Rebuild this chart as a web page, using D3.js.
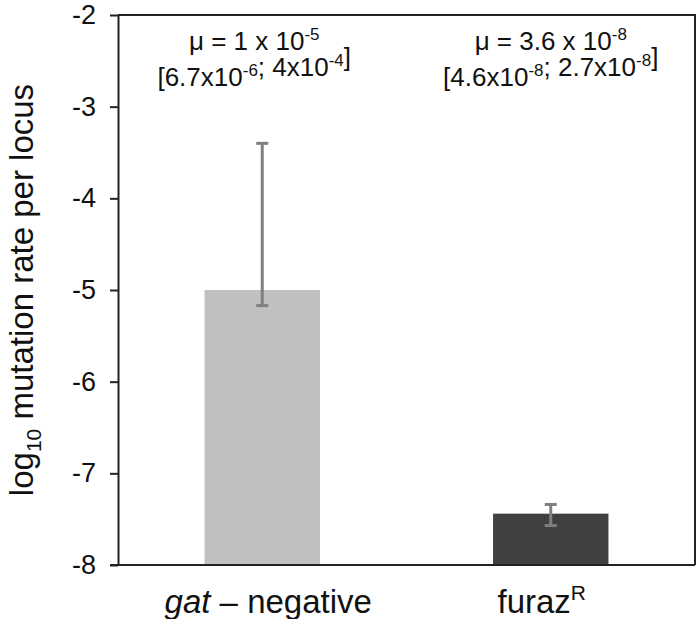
<!DOCTYPE html>
<html>
<head>
<meta charset="utf-8">
<script src="https://d3js.org/d3.v7.min.js"></script>
<style>
  body { margin: 0; background: #fff; }
  text { font-family: "Liberation Sans", Arial, sans-serif; fill: #111; }
</style>
</head>
<body>
<div id="chart"></div>
<script>
// values (log10 mutation rate)
var categories = ["gat", "furaz"];
var means = [-5.0, -7.44];
var errHigh = [-3.40, -7.34];
var errLow = [-5.17, -7.57];
var barColors = ["#c0c0c0", "#404040"];
var yTicks = [-8, -7, -6, -5, -4, -3, -2];
// annotation: mu value and interval, as [base, exponent] pairs
var muText = [[["μ = 1 x 10", "-5"]], [["μ = 3.6 x 10", "-8"]]];
var ciText = [
  [["[6.7x10", "-6"], ["; 4x10", "-4"], ["]", ""]],
  [["[4.6x10", "-8"], ["; 2.7x10", "-8"], ["]", ""]]
];

var W = 700, H = 619;
var margin = { top: 15, right: 5, bottom: 54, left: 118 };
var w = W - margin.left - margin.right;
var h = H - margin.top - margin.bottom;

var svg = d3.select("#chart").append("svg")
  .attr("width", W).attr("height", H);
var g = svg.append("g")
  .attr("transform", "translate(" + margin.left + "," + margin.top + ")");

var x = d3.scaleBand().domain(categories).range([0, w])
  .paddingInner(0.6).paddingOuter(0.3);
var y = d3.scaleLinear().domain([-8, -2]).range([h, 0]);

// bars
g.selectAll("rect.bar").data(categories).enter().append("rect")
  .attr("class", "bar")
  .attr("x", function (d) { return x(d); })
  .attr("width", x.bandwidth())
  .attr("y", function (d, i) { return y(means[i]); })
  .attr("height", function (d, i) { return y(-8) - y(means[i]); })
  .attr("fill", function (d, i) { return barColors[i]; });

// error bars
var cap = 6;
var eb = g.selectAll("g.err").data(categories).enter().append("g")
  .attr("class", "err")
  .attr("stroke", "#7f7f7f").attr("stroke-width", 3);
eb.append("line")
  .attr("x1", function (d) { return x(d) + x.bandwidth() / 2; })
  .attr("x2", function (d) { return x(d) + x.bandwidth() / 2; })
  .attr("y1", function (d, i) { return y(errHigh[i]); })
  .attr("y2", function (d, i) { return y(errLow[i]); });
eb.append("line")
  .attr("x1", function (d) { return x(d) + x.bandwidth() / 2 - cap; })
  .attr("x2", function (d) { return x(d) + x.bandwidth() / 2 + cap; })
  .attr("y1", function (d, i) { return y(errHigh[i]); })
  .attr("y2", function (d, i) { return y(errHigh[i]); });
eb.append("line")
  .attr("x1", function (d) { return x(d) + x.bandwidth() / 2 - cap; })
  .attr("x2", function (d) { return x(d) + x.bandwidth() / 2 + cap; })
  .attr("y1", function (d, i) { return y(errLow[i]); })
  .attr("y2", function (d, i) { return y(errLow[i]); });

// frame (top + right)
g.append("path")
  .attr("d", "M0,0H" + w + "V" + h)
  .attr("fill", "none").attr("stroke", "#222").attr("stroke-width", 2);

// y axis
var yAxis = g.append("g")
  .call(d3.axisLeft(y).tickValues(yTicks).tickSize(8).tickSizeOuter(0));
yAxis.select(".domain").attr("stroke", "#222").attr("stroke-width", 2);
yAxis.selectAll(".tick line").attr("stroke", "#222").attr("stroke-width", 2);
yAxis.selectAll(".tick text")
  .attr("x", -22)
  .style("font-size", "27px")
  .style("font-family", "Liberation Sans, Arial, sans-serif")
  .attr("fill", "#111")
  .text(function (d) { return String(d); });

// x axis (baseline only, labels custom)
var xAxis = g.append("g").attr("transform", "translate(0," + h + ")")
  .call(d3.axisBottom(x).tickSize(0).tickSizeOuter(0).tickFormat(""));
xAxis.select(".domain").attr("stroke", "#222").attr("stroke-width", 2)
  .attr("d", "M-8,0H" + w);

// x labels
var labY = h + 48;
var lab0 = g.append("text")
  .attr("x", x("gat") + x.bandwidth() / 2 + 6).attr("y", labY)
  .attr("text-anchor", "middle").style("font-size", "33px");
lab0.append("tspan").style("font-style", "italic").text("gat");
lab0.append("tspan").text(" – negative");
var lab1 = g.append("text")
  .attr("x", x("furaz") + x.bandwidth() / 2 - 9).attr("y", labY)
  .attr("text-anchor", "middle").style("font-size", "33px");
lab1.append("tspan").text("furaz");
lab1.append("tspan").attr("dy", -13).style("font-size", "21px").text("R");

// annotations
function writeLine(sel, parts) {
  parts.forEach(function (p) {
    sel.append("tspan").text(p[0]);
    if (p[1]) {
      sel.append("tspan").attr("dy", -10).style("font-size", "17px").text(p[1]);
      sel.append("tspan").attr("dy", 10).text("");
    }
  });
}
categories.forEach(function (c, i) {
  var cx = x(c) + x.bandwidth() / 2 - (i === 0 ? 8 : 0);
  var t1 = g.append("text").attr("x", cx).attr("y", 35)
    .attr("text-anchor", "middle").style("font-size", "26px");
  writeLine(t1, muText[i]);
  var t2 = g.append("text").attr("x", cx).attr("y", 71)
    .attr("text-anchor", "middle").style("font-size", "26px");
  writeLine(t2, ciText[i]);
});

// y axis title
var yt = svg.append("text")
  .attr("transform", "translate(33," + (margin.top + h / 2) + ") rotate(-90)")
  .attr("text-anchor", "middle").style("font-size", "33px");
yt.append("tspan").text("log");
yt.append("tspan").attr("dy", 8).style("font-size", "21px").text("10");
yt.append("tspan").attr("dy", -8).text(" mutation rate per locus");
</script>
</body>
</html>
